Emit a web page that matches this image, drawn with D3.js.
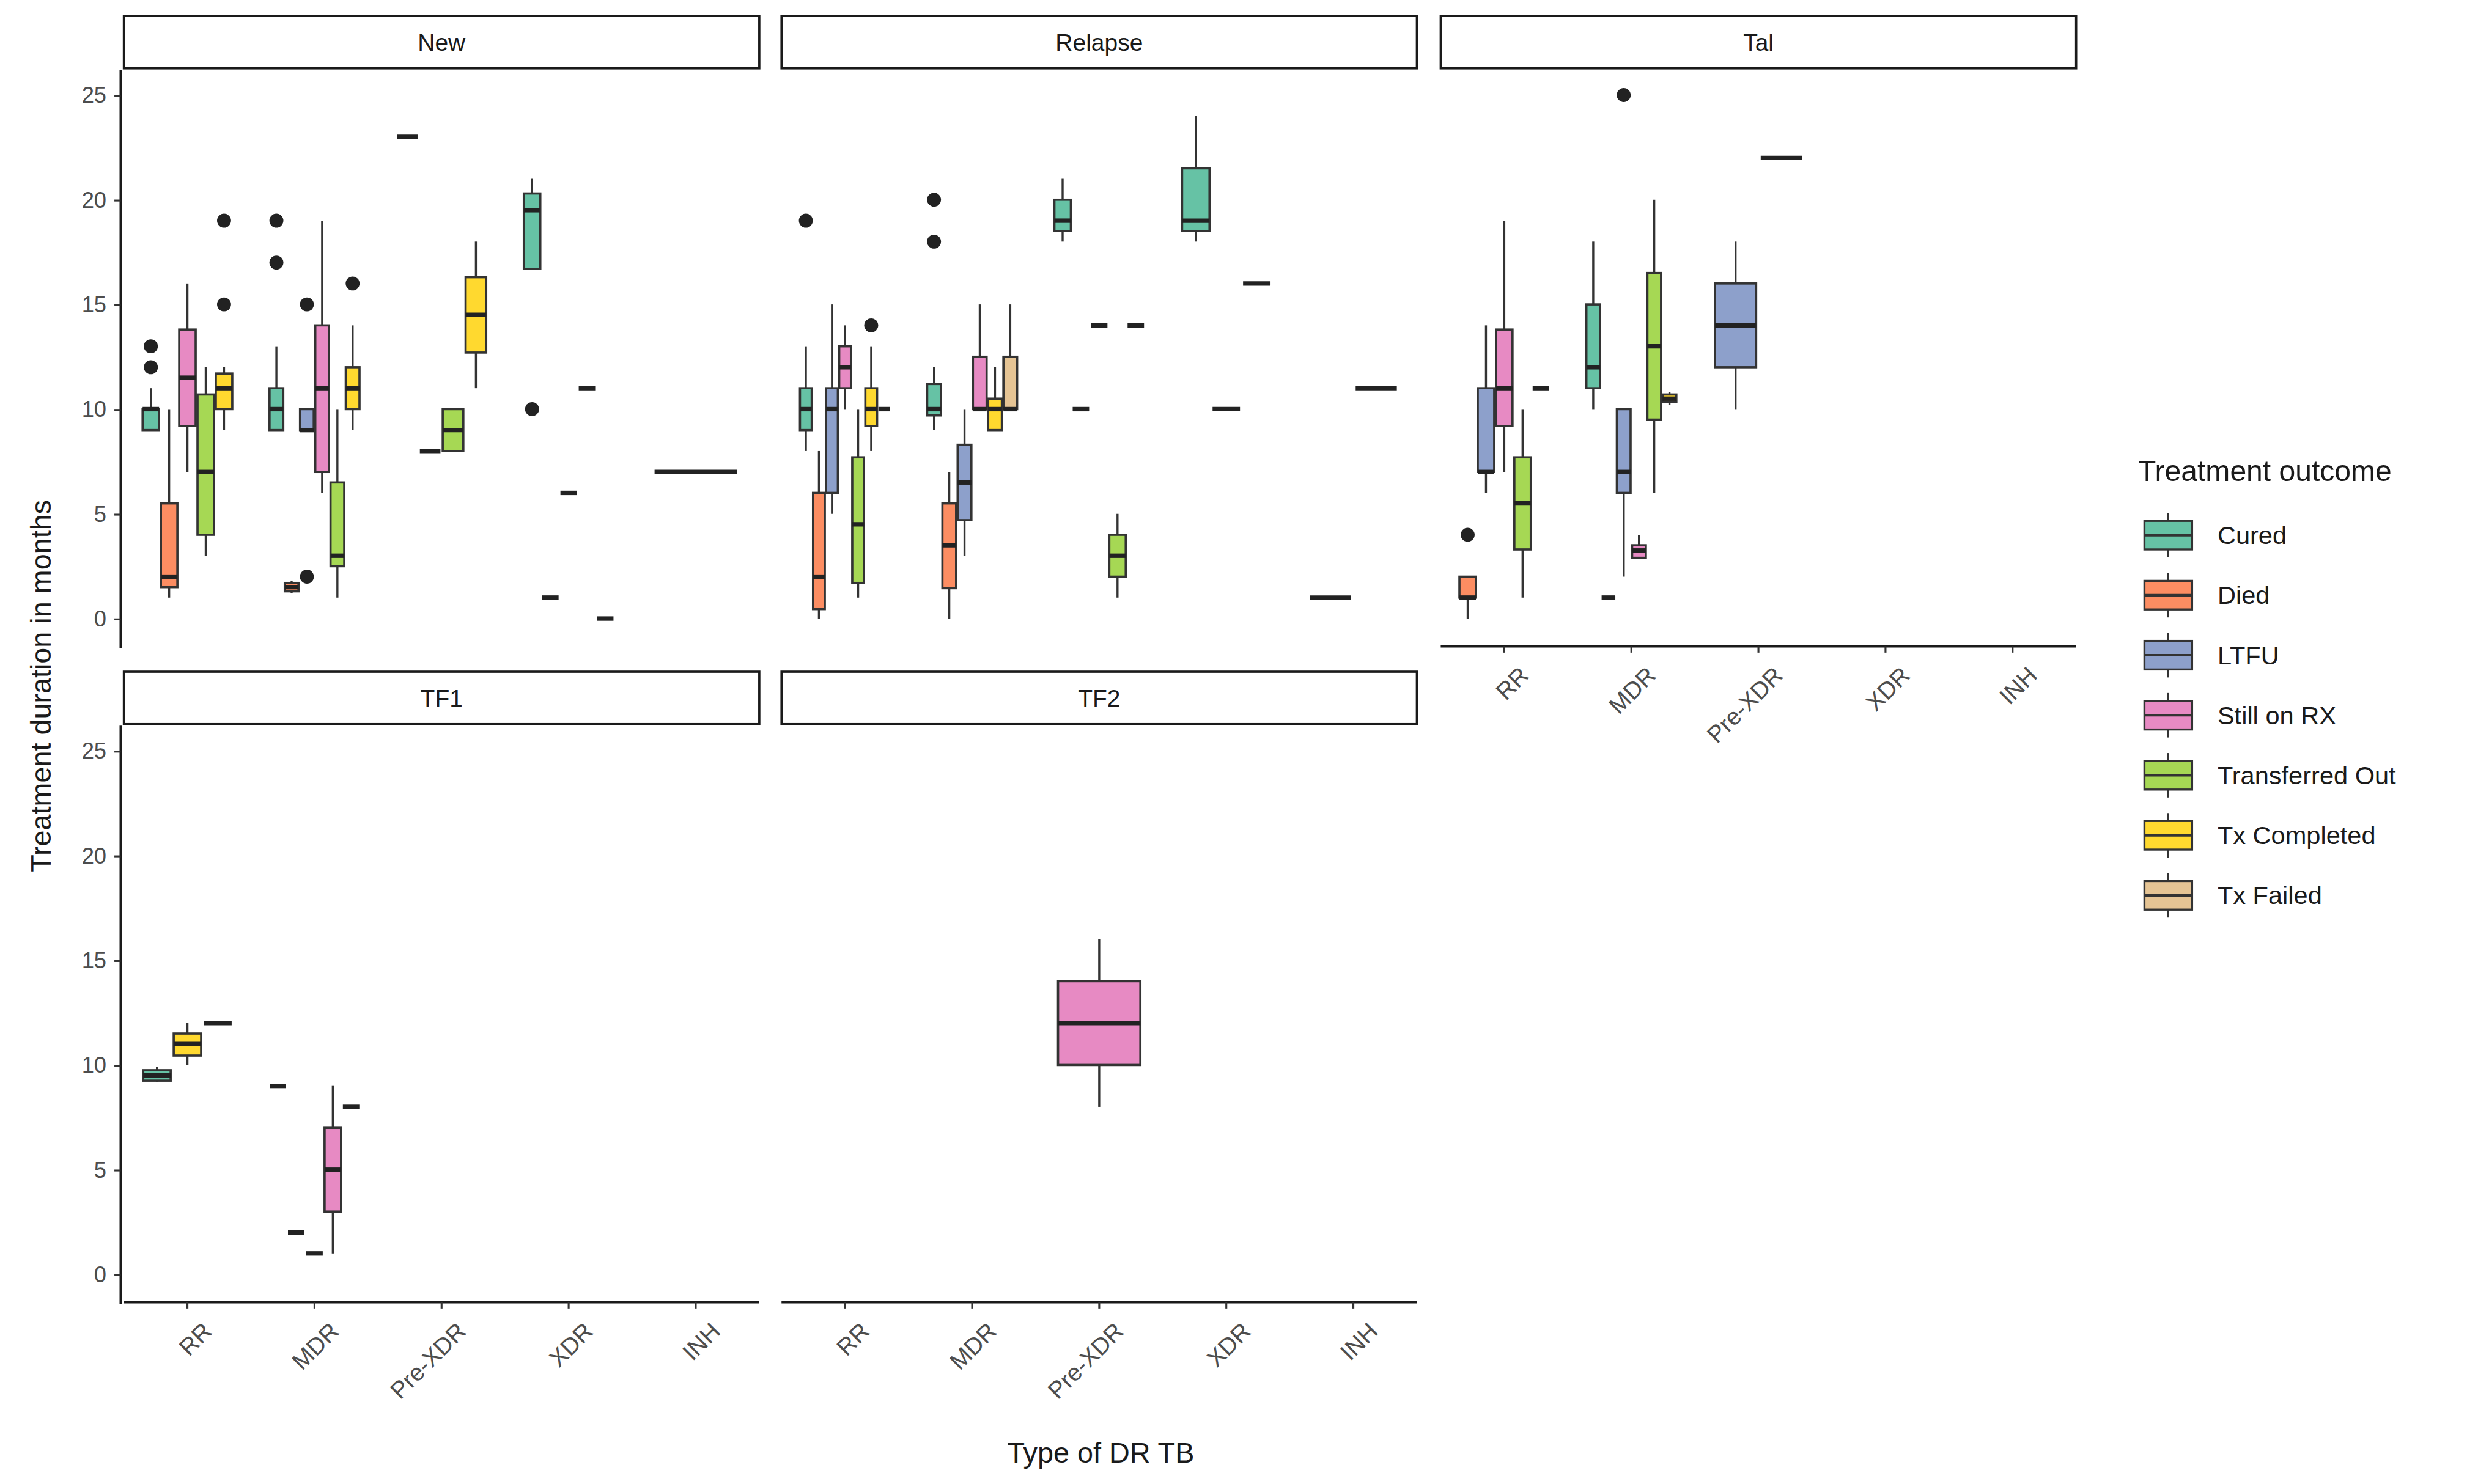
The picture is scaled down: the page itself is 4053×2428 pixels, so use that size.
<!DOCTYPE html>
<html>
<head>
<meta charset="utf-8">
<script src="https://cdn.jsdelivr.net/npm/d3@7"></script>
<style>
  body { margin: 0; background: #fff; }
</style>
</head>
<body>
<div id="chart"></div>
<script>
// categories and outcomes
const types = ['RR', 'MDR', 'Pre-XDR', 'XDR', 'INH'];
const outcomes = ['Cured', 'Died', 'LTFU', 'Still on RX', 'Transferred Out', 'Tx Completed', 'Tx Failed'];
const colors = ['#66C2A5', '#FC8D62', '#8DA0CB', '#E78AC3', '#A6D854', '#FFD92F', '#E5C494'];
const yTicks = [0, 5, 10, 15, 20, 25];

// rows: [type, outcome, [min, q1, median, q3, max] or [single], outliers]
const newBoxes = [
  ['RR', 'Cured', [9, 9, 10, 10, 11], [12, 13]],
  ['RR', 'Died', [1, 1.5, 2, 5.5, 10], []],
  ['RR', 'Still on RX', [7, 9.2, 11.5, 13.8, 16], []],
  ['RR', 'Transferred Out', [3, 4, 7, 10.7, 12], []],
  ['RR', 'Tx Completed', [9, 10, 11, 11.7, 12], [15, 19]],
  ['MDR', 'Cured', [9, 9, 10, 11, 13], [17, 19]],
  ['MDR', 'Died', [1.2, 1.3, 1.5, 1.7, 1.8], []],
  ['MDR', 'LTFU', [9, 9, 9, 10, 10], [2, 15]],
  ['MDR', 'Still on RX', [6, 7, 11, 14, 19], []],
  ['MDR', 'Transferred Out', [1, 2.5, 3, 6.5, 10], []],
  ['MDR', 'Tx Completed', [9, 10, 11, 12, 14], [16]],
  ['Pre-XDR', 'Cured', [23], []],
  ['Pre-XDR', 'LTFU', [8], []],
  ['Pre-XDR', 'Transferred Out', [8, 8, 9, 10, 10], []],
  ['Pre-XDR', 'Tx Completed', [11, 12.7, 14.5, 16.3, 18], []],
  ['XDR', 'Cured', [16.7, 16.7, 19.5, 20.3, 21], [10]],
  ['XDR', 'Died', [1], []],
  ['XDR', 'LTFU', [6], []],
  ['XDR', 'Still on RX', [11], []],
  ['XDR', 'Transferred Out', [0], []],
  ['INH', 'Cured', [7], []]
];
const relapseBoxes = [
  ['RR', 'Cured', [8, 9, 10, 11, 13], [19]],
  ['RR', 'Died', [0, 0.45, 2, 6, 8], []],
  ['RR', 'LTFU', [5, 6, 10, 11, 15], []],
  ['RR', 'Still on RX', [10, 11, 12, 13, 14], []],
  ['RR', 'Transferred Out', [1, 1.7, 4.5, 7.7, 10], []],
  ['RR', 'Tx Completed', [8, 9.2, 10, 11, 13], [14]],
  ['RR', 'Tx Failed', [10], []],
  ['MDR', 'Cured', [9, 9.7, 10, 11.2, 12], [18, 20]],
  ['MDR', 'Died', [0, 1.45, 3.5, 5.5, 7], []],
  ['MDR', 'LTFU', [3, 4.7, 6.5, 8.3, 10], []],
  ['MDR', 'Still on RX', [10, 10, 10, 12.5, 15], []],
  ['MDR', 'Tx Completed', [9, 9, 10, 10.5, 12], []],
  ['MDR', 'Tx Failed', [10, 10, 10, 12.5, 15], []],
  ['Pre-XDR', 'Cured', [18, 18.5, 19, 20, 21], []],
  ['Pre-XDR', 'LTFU', [10], []],
  ['Pre-XDR', 'Still on RX', [14], []],
  ['Pre-XDR', 'Transferred Out', [1, 2, 3, 4, 5], []],
  ['Pre-XDR', 'Tx Completed', [14], []],
  ['XDR', 'Cured', [18, 18.5, 19, 21.5, 24], []],
  ['XDR', 'LTFU', [10], []],
  ['XDR', 'Still on RX', [16], []],
  ['INH', 'Died', [1], []],
  ['INH', 'Still on RX', [11], []]
];
const talBoxes = [
  ['RR', 'Died', [0, 1, 1, 2, 2], [4]],
  ['RR', 'LTFU', [6, 7, 7, 11, 14], []],
  ['RR', 'Still on RX', [7, 9.2, 11, 13.8, 19], []],
  ['RR', 'Transferred Out', [1, 3.3, 5.5, 7.7, 10], []],
  ['RR', 'Tx Completed', [11], []],
  ['MDR', 'Cured', [10, 11, 12, 15, 18], []],
  ['MDR', 'Died', [1], []],
  ['MDR', 'LTFU', [2, 6, 7, 10, 10], [25]],
  ['MDR', 'Still on RX', [2.9, 2.9, 3.25, 3.5, 4], []],
  ['MDR', 'Transferred Out', [6, 9.5, 13, 16.5, 20], []],
  ['MDR', 'Tx Completed', [10.2, 10.35, 10.5, 10.7, 10.8], []],
  ['Pre-XDR', 'LTFU', [10, 12, 14, 16, 18], []],
  ['Pre-XDR', 'Still on RX', [22], []]
];
const tf1Boxes = [
  ['RR', 'Cured', [9.2, 9.25, 9.5, 9.75, 9.9], []],
  ['RR', 'Tx Completed', [10, 10.45, 11, 11.5, 12], []],
  ['RR', 'Tx Failed', [12], []],
  ['MDR', 'Cured', [9], []],
  ['MDR', 'Died', [2], []],
  ['MDR', 'LTFU', [1], []],
  ['MDR', 'Still on RX', [1, 3, 5, 7, 9], []],
  ['MDR', 'Tx Completed', [8], []]
];
const tf2Boxes = [
  ['Pre-XDR', 'Still on RX', [8, 10, 12, 14, 16], []]
];

const panels = [
  { name: 'New', rows: newBoxes, x: 78, top: 10, yAxis: true, xAxis: false },
  { name: 'Relapse', rows: relapseBoxes, x: 492, top: 10, yAxis: false, xAxis: false },
  { name: 'Tal', rows: talBoxes, x: 907, top: 10, yAxis: false, xAxis: true },
  { name: 'TF1', rows: tf1Boxes, x: 78, top: 423, yAxis: true, xAxis: true },
  { name: 'TF2', rows: tf2Boxes, x: 492, top: 423, yAxis: false, xAxis: true }
];

const font = 'Arial, "Liberation Sans", sans-serif';
const W = 1560, H = 934.5;
const pw = 400, stripH = 33, plotH = 362;
const color = d3.scaleOrdinal().domain(outcomes).range(colors);

const svg = d3.select('#chart').append('svg')
  .attr('viewBox', `0 0 ${W} ${H}`)
  .attr('width', 4053).attr('height', 2428)
  .style('font-family', font);

panels.forEach(p => {
  const g = svg.append('g').attr('transform', `translate(${p.x},${p.top})`);
  const y0 = stripH + 1;
  const x = d3.scaleBand().domain(types).range([0, pw]);
  const y = d3.scaleLinear().domain([-1.25, 26.2]).range([y0 + plotH, y0]);

  // strip
  g.append('rect').attr('x', 0).attr('y', 0).attr('width', pw).attr('height', stripH)
    .attr('fill', '#fff').attr('stroke', '#1a1a1a').attr('stroke-width', 1.4);
  g.append('text').attr('x', pw / 2).attr('y', stripH / 2).attr('dy', '0.35em')
    .attr('text-anchor', 'middle').attr('font-size', 15).attr('fill', '#1a1a1a').text(p.name);

  // dodge slots per type
  const groupW = x.bandwidth() * 0.72;
  const counts = d3.rollup(p.rows, v => v.length, d => d[0]);
  const idx = {};
  const boxes = p.rows.map(r => {
    const n = counts.get(r[0]);
    const i = idx[r[0]] = (idx[r[0]] ?? -1) + 1;
    const slot = groupW / n;
    const s = r[2].length === 1 ? [r[2][0], r[2][0], r[2][0], r[2][0], r[2][0]] : r[2];
    return { type: r[0], outcome: r[1], s, out: r[3],
      cx: x(r[0]) + x.bandwidth() / 2 - groupW / 2 + slot * (i + 0.5), bw: slot * 0.9 };
  });

  const b = g.selectAll('.box').data(boxes).join('g');
  b.append('line').attr('x1', d => d.cx).attr('x2', d => d.cx)
    .attr('y1', d => y(d.s[4])).attr('y2', d => y(d.s[3]))
    .attr('stroke', '#333').attr('stroke-width', 1.3);
  b.append('line').attr('x1', d => d.cx).attr('x2', d => d.cx)
    .attr('y1', d => y(d.s[1])).attr('y2', d => y(d.s[0]))
    .attr('stroke', '#333').attr('stroke-width', 1.3);
  b.append('rect').attr('x', d => d.cx - d.bw / 2).attr('width', d => d.bw)
    .attr('y', d => y(d.s[3])).attr('height', d => y(d.s[1]) - y(d.s[3]))
    .attr('fill', d => color(d.outcome)).attr('stroke', '#333').attr('stroke-width', 1.4);
  b.append('line').attr('x1', d => d.cx - d.bw / 2).attr('x2', d => d.cx + d.bw / 2)
    .attr('y1', d => y(d.s[2])).attr('y2', d => y(d.s[2]))
    .attr('stroke', '#222').attr('stroke-width', 2.8);
  b.selectAll('circle').data(d => d.out.map(v => ({ cx: d.cx, v })))
    .join('circle').attr('cx', d => d.cx).attr('cy', d => y(d.v)).attr('r', 4.4).attr('fill', '#222');

  if (p.yAxis) {
    const ya = g.append('g').attr('transform', `translate(-2,0)`)
      .call(d3.axisLeft(y).tickValues(yTicks).tickSize(4).tickPadding(5));
    ya.select('.domain').attr('d', `M0,${y0}V${y0 + plotH + 2}`).attr('stroke', '#1a1a1a').attr('stroke-width', 1.5);
    ya.selectAll('.tick line').attr('stroke', '#333').attr('stroke-width', 1.2);
    ya.selectAll('text').attr('fill', '#4d4d4d').attr('font-size', 14).attr('font-family', font);
  }
  if (p.xAxis) {
    const xa = g.append('g').attr('transform', `translate(0,${y0 + plotH + 1})`)
      .call(d3.axisBottom(x).tickSize(4).tickPadding(3));
    xa.select('.domain').attr('d', `M0,0H${pw}`).attr('stroke', '#1a1a1a').attr('stroke-width', 1.5);
    xa.selectAll('.tick line').attr('stroke', '#333').attr('stroke-width', 1.2);
    xa.selectAll('text').attr('fill', '#4d4d4d').attr('font-size', 15).attr('font-family', font)
      .attr('text-anchor', 'end').attr('dy', '0.6em')
      .attr('transform', 'translate(5,8) rotate(-45)');
  }
});

// axis titles
svg.append('text').attr('x', 693).attr('y', 921).attr('text-anchor', 'middle')
  .attr('font-size', 18).attr('fill', '#1a1a1a').text('Type of DR TB');
svg.append('text').attr('transform', 'translate(32,432) rotate(-90)').attr('text-anchor', 'middle')
  .attr('font-size', 18).attr('fill', '#1a1a1a').text('Treatment duration in months');

// legend
const lg = svg.append('g').attr('transform', 'translate(1346,296)');
lg.append('text').attr('x', 0).attr('y', 7).attr('font-size', 18.5).attr('fill', '#1a1a1a').text('Treatment outcome');
const items = lg.selectAll('.item').data(outcomes).join('g')
  .attr('transform', (d, i) => `translate(4,${41 + i * 37.8})`);
items.append('line').attr('x1', 15).attr('x2', 15).attr('y1', -14).attr('y2', 14)
  .attr('stroke', '#333').attr('stroke-width', 1.2);
items.append('rect').attr('x', 0).attr('y', -9).attr('width', 30).attr('height', 18)
  .attr('fill', d => color(d)).attr('stroke', '#333').attr('stroke-width', 1.3);
items.append('line').attr('x1', 0).attr('x2', 30).attr('y1', 0).attr('y2', 0)
  .attr('stroke', '#333').attr('stroke-width', 1.6);
items.append('text').attr('x', 46).attr('y', 0).attr('dy', '0.35em')
  .attr('font-size', 16).attr('fill', '#1a1a1a').text(d => d);
</script>
</body>
</html>
